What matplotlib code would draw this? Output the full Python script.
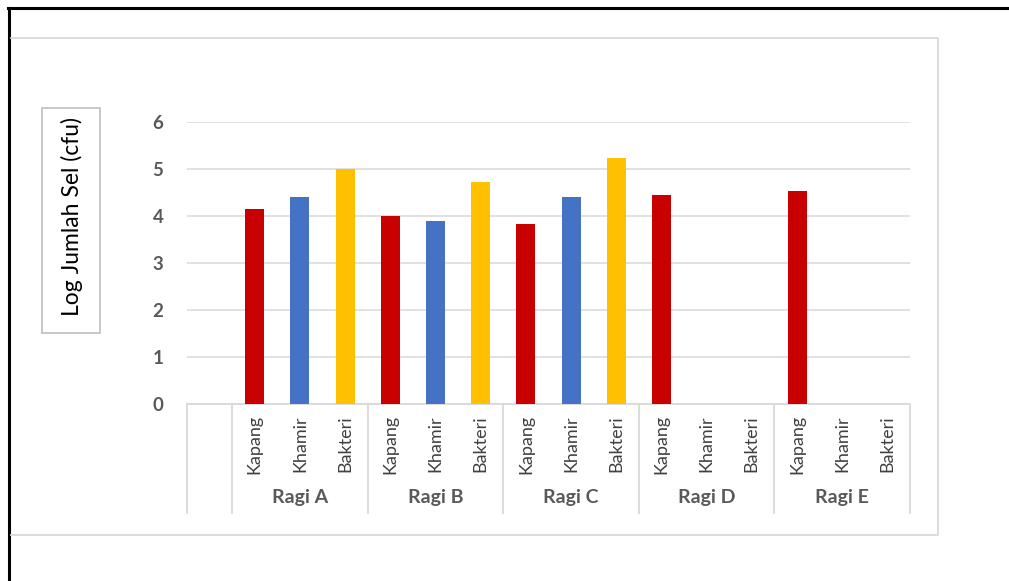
import numpy as np
import matplotlib
matplotlib.use("Agg")
import matplotlib.pyplot as plt
from matplotlib.lines import Line2D
from matplotlib.patches import Rectangle
from matplotlib.transforms import blended_transform_factory

plt.rcParams["font.family"] = ["Lato", "DejaVu Sans"]

# data
groups = ["Ragi A", "Ragi B", "Ragi C", "Ragi D", "Ragi E"]
microbes = ["Kapang", "Khamir", "Bakteri"]
kapang = [4.14, 3.99, 3.82, 4.45, 4.53]
khamir = [4.40, 3.89, 4.40, np.nan, np.nan]
bakteri = [5.01, 4.73, 5.24, np.nan, np.nan]
colors = ["#C80000", "#4472C4", "#FFC000"]
y_ticks = [0, 1, 2, 3, 4, 5, 6]

W, H = 1009, 581
fig = plt.figure(figsize=(W / 100, H / 100), dpi=100)


def fx(px):
    return px / W


def fy(py):
    return 1 - py / H


# page border (black, top + left) and chart area frame (light gray)
fig.add_artist(Line2D([fx(8), 1], [fy(8), fy(8)], color="black", lw=2.2))
fig.add_artist(Line2D([fx(9), fx(9)], [fy(8), 0], color="black", lw=2.2))
fig.add_artist(Line2D([fx(11), fx(938), fx(938), fx(11)],
                      [fy(38), fy(38), fy(535), fy(535)], color="#d9d9d9", lw=1.3))

ax = fig.add_axes([fx(187), fy(404), fx(910) - fx(187), fy(122) - fy(404)])

# one empty slot first, then 3 bars per group
series = [kapang, khamir, bakteri]
pos, labels = [], []
for g in range(len(groups)):
    for m in range(len(microbes)):
        x = 1 + g * len(microbes) + m
        pos.append(x)
        labels.append(microbes[m])
        v = series[m][g]
        if not np.isnan(v):
            ax.bar(x, v, width=0.42, color=colors[m], zorder=3)

ax.set_xlim(-0.5, len(pos) + 0.5)
ax.set_ylim(0, 6)
ax.set_yticks(y_ticks)
ax.set_yticklabels([str(t) for t in y_ticks], fontsize=13.5, fontweight="bold", color="#595959")
ax.tick_params(axis="y", length=0, pad=17)
ax.grid(axis="y", color="#d9d9d9", lw=1.1, zorder=0)
ax.set_xticks(pos)
ax.set_xticklabels(labels, rotation=90, fontsize=13, color="#404040", va="top")
ax.tick_params(axis="x", length=0, pad=8)
for s in ["left", "right", "top"]:
    ax.spines[s].set_visible(False)
ax.spines["bottom"].set_color("#d9d9d9")
ax.spines["bottom"].set_linewidth(1.3)

# multi-level category axis: separators + group names
tr = blended_transform_factory(ax.transData, ax.transAxes)
bounds = [-0.5, 0.5] + [0.5 + len(microbes) * (g + 1) for g in range(len(groups))]
for b in bounds:
    ax.plot([b, b], [0, -0.385], transform=tr, color="#d9d9d9", lw=1.3, clip_on=False)
for g, name in enumerate(groups):
    cx = 1 + g * len(microbes) + (len(microbes) - 1) / 2
    ax.text(cx, -0.333, name, transform=tr, ha="center", va="center",
            fontsize=14, fontweight="bold", color="#595959")

# boxed y-axis title
fig.add_artist(Rectangle((fx(42), fy(333)), fx(100) - fx(42), fy(108) - fy(333),
                         fill=False, edgecolor="#bfbfbf", lw=1.2))
fig.text(fx(72), fy(216), "Log Jumlah Sel (cfu)", rotation=90, ha="center", va="center",
         fontsize=16.5, color="black")

fig.savefig("out.png", dpi=100)
